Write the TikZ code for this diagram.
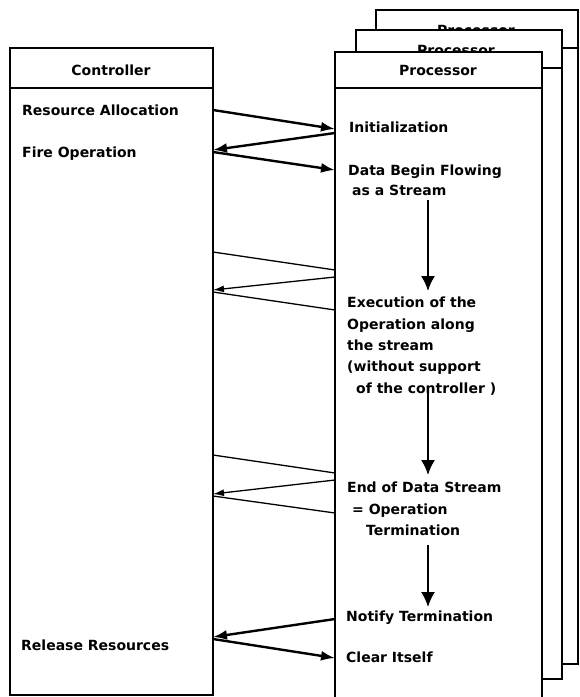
\documentclass[tikz,border=0pt]{standalone}
\usepackage{fontspec}
\setmainfont{DejaVu Sans}
\usetikzlibrary{arrows.meta,positioning,calc}

\tikzset{
  box/.style={draw, line width=2pt, fill=white},
  rule/.style={line width=2pt},
  txt/.style={anchor=base west, inner sep=0pt},
  head/.style={anchor=base, inner sep=0pt},
  msg/.style={line width=2.4pt, -{Latex[length=14pt,width=10pt]}},
  note/.style={line width=1.3pt},
  notemsg/.style={line width=1.3pt, -{Latex[length=11pt,width=7pt]}},
  flow/.style={line width=1.8pt, -{Latex[length=15pt,width=14pt]}}
}

\begin{document}
\begin{tikzpicture}[x=1pt, y=-1pt, font=\fontsize{14}{21}\selectfont\bfseries]
\useasboundingbox (0,0) rectangle (580,697);
\clip (0,0) rectangle (580,697);

% Processors in the back
\draw[box] (376,10) rectangle (578,664);
\draw[rule] (376,48) -- (578,48);
\node[head] (procC) at (476,35) {Processor};
\draw[box] (356,30) rectangle (562,679);
\draw[rule] (356,68) -- (562,68);
\node[head] (procB) at (456,55) {Processor};

% Front processor
\draw[box] (335,52) rectangle (542,720);
\draw[rule] (335,88) -- (542,88);
\node[head] (proc) at (438,75) {Processor};

% Controller
\draw[box] (10,48) rectangle (213,695);
\draw[rule] (10,88) -- (213,88);
\node[head] (ctrl) at (111,75) {Controller};

% Controller steps
\node[txt] (alloc) at (22,115) {Resource Allocation};
\node[txt] (fire) at (22,157) {Fire Operation};
\node[txt] (release) at (21,650) {Release Resources};

% Processor steps
\node[txt] (init) at (349,132) {Initialization};
\node[txt] (begin) at (348,175) {Data Begin Flowing};
\node[txt] (beginB) at (352,195) {as a Stream};
\node[txt] (exec) at (347,307) {Execution of the};
\node[txt] (execB) at (347,329) {Operation along};
\node[txt] (execC) at (347,350) {the stream};
\node[txt] (execD) at (347,371) {(without support};
\node[txt] (execE) at (356,393) {of the controller )};
\node[txt] (stop) at (347,492) {End of Data Stream};
\node[txt] (stopB) at (352,514) {= Operation};
\node[txt] (stopC) at (366,535) {Termination};
\node[txt] (notify) at (346,621) {Notify Termination};
\node[txt] (clear) at (346,662) {Clear Itself};

% Ends of the messages
\coordinate (ca) at (213,110);  \coordinate (pa) at (335,129);
\coordinate (pb) at (335,133);  \coordinate (cb) at (213,150);
\coordinate (cc) at (213,152);  \coordinate (pc) at (335,170);
\coordinate (cd) at (213,252);  \coordinate (pd) at (335,270);
\coordinate (pe) at (335,277);  \coordinate (ce) at (213,290);
\coordinate (cf) at (213,292);  \coordinate (pf) at (335,310);
\coordinate (cg) at (213,455);  \coordinate (pg) at (335,473);
\coordinate (ph) at (335,480);  \coordinate (ch) at (213,494);
\coordinate (ci) at (213,496);  \coordinate (pi) at (335,513);
\coordinate (pj) at (335,619);  \coordinate (cj) at (213,637);
\coordinate (ck) at (213,639);  \coordinate (pk) at (335,658);

% Start up
\draw[msg] (ca) -- (pa);
\draw[msg] (pb) -- (cb);
\draw[msg] (cc) -- (pc);

% Status during the stream
\draw[note] (cd) -- (pd);
\draw[notemsg] (pe) -- (ce);
\draw[note] (cf) -- (pf);
\draw[note] (cg) -- (pg);
\draw[notemsg] (ph) -- (ch);
\draw[note] (ci) -- (pi);

% Shut down
\draw[msg] (pj) -- (cj);
\draw[msg] (ck) -- (pk);

% Flow inside the processor
\coordinate (fa) at (428,200);  \coordinate (fb) at (428,291);
\coordinate (fc) at (428,393);  \coordinate (fd) at (428,475);
\coordinate (fe) at (428,545);  \coordinate (ff) at (428,607);
\draw[flow] (fa) -- (fb);
\draw[flow] (fc) -- (fd);
\draw[flow] (fe) -- (ff);
\end{tikzpicture}
\end{document}
